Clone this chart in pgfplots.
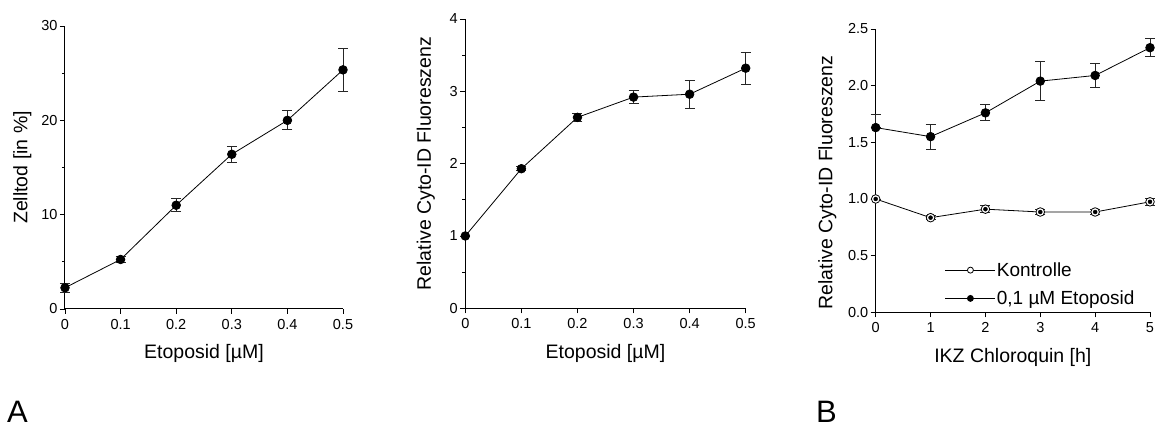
\documentclass[border=0pt]{standalone}
\usepackage{fontspec}
\setmainfont{Liberation Sans}
\usepackage{pgfplots}
\usepackage{pgfplotstable}
\pgfplotsset{compat=1.18}

% Zelltod nach Etoposid
\pgfplotstableread{
x    y     ep    em
0    2.25  0.45  0.45
0.1  5.25  0.35  0.35
0.2  11.0  0.7   0.7
0.3  16.4  0.85  0.85
0.4  20.0  1.0   1.0
0.5  25.35 2.3   2.3
}\zelltod

% Cyto-ID nach Etoposid
\pgfplotstableread{
x    y     ep    em
0    1.0   0     0
0.1  1.93  0.03  0.03
0.2  2.64  0.06  0.06
0.3  2.92  0.09  0.09
0.4  2.96  0.19  0.19
0.5  3.32  0.22  0.22
}\cytoeto

% Cyto-ID nach Chloroquin, 0,1 uM Etoposid
\pgfplotstableread{
x  y      ep    em
0  1.63   0.12  0
1  1.55   0.11  0.11
2  1.76   0.07  0.07
3  2.04   0.17  0.17
4  2.09   0.11  0.11
5  2.335  0.08  0.08
}\chloeto

% Cyto-ID nach Chloroquin, Kontrolle
\pgfplotstableread{
x  y      ep    em
0  1.0    0     0
1  0.835  0.02  0.02
2  0.91   0.03  0.03
3  0.885  0.02  0.02
4  0.885  0.02  0.02
5  0.975  0.03  0.03
}\chlokon

\pgfplotsset{
  panel/.style={
    scale only axis,
    axis lines*=left,
    axis line style={line width=1pt, black},
    clip=false,
    tick align=outside,
    major tick length=5pt,
    minor tick length=3pt,
    every tick/.style={black, line width=0.9pt},
    tick label style={font=\fontsize{14.5}{16}\selectfont},
    xticklabel style={yshift=-1.5pt},
    yticklabel style={xshift=1pt},
    /pgf/number format/assume math mode=true,
    label style={font=\fontsize{19.5}{22}\selectfont},
    xlabel style={at={(axis description cs:0.5,0)}, anchor=base, yshift=-50pt},
  },
  curve/.style={black, line width=0.8pt, mark=*, mark size=4.3pt,
    mark options={solid, line width=0.7pt}},
  ebars/.style={only marks, mark=none, forget plot,
    error bars/.cd, y dir=both, y explicit,
    error bar style={line width=0.9pt, black!85},
    error mark options={rotate=90, mark size=5pt, line width=0.9pt, black!85}},
}

\begin{document}
\begin{tikzpicture}
\useasboundingbox (0pt,0pt) rectangle (1157pt,427pt);

% Panel A, links
\begin{axis}[panel,
  at={(65pt,118pt)}, anchor=south west, width=278pt, height=283pt,
  xmin=0, xmax=0.5, ymin=0, ymax=30,
  xtick={0,0.1,...,0.5}, xticklabels={0,0.1,0.2,0.3,0.4,0.5},
  ytick={0,10,20,30}, minor ytick={5,15,25},
  xlabel={Etoposid [µM]}, ylabel={Zelltod [in \%]},
  ylabel style={at={(axis description cs:-0.135,0.5)}, anchor=base},
]
\addplot[curve, mark options={fill=black}] table[x=x, y=y] {\zelltod};
\addplot[ebars] table[x=x, y=y, y error plus=ep, y error minus=em] {\zelltod};
\end{axis}

% Panel A, rechts
\begin{axis}[panel,
  at={(465.3pt,118.7pt)}, anchor=south west, width=280.4pt, height=289.3pt,
  xmin=0, xmax=0.5, ymin=0, ymax=4,
  xtick={0,0.1,...,0.5}, xticklabels={0,0.1,0.2,0.3,0.4,0.5},
  ytick={0,1,2,3,4}, minor ytick={0.5,1.5,2.5,3.5},
  xlabel={Etoposid [µM]}, ylabel={Relative Cyto-ID Fluoreszenz},
  ylabel style={at={(axis description cs:-0.123,0.5)}, anchor=base},
]
\addplot[curve, mark options={fill=black}] table[x=x, y=y] {\cytoeto};
\addplot[ebars] table[x=x, y=y, y error plus=ep, y error minus=em] {\cytoeto};
\end{axis}

% Panel B
\begin{axis}[panel,
  at={(875.7pt,114.7pt)}, anchor=south west, width=274.3pt, height=283.3pt,
  xmin=0, xmax=5, ymin=0, ymax=2.5,
  xtick={0,1,2,3,4,5},
  ytick={0,0.5,1,1.5,2,2.5},
  yticklabels={0.0,0.5,1.0,1.5,2.0,2.5},
  xlabel={IKZ Chloroquin [h]}, ylabel={Relative Cyto-ID Fluoreszenz},
  ylabel style={at={(axis description cs:-0.158,0.458)}, anchor=base},
  legend style={draw=none, fill=none, inner sep=0pt, anchor=north west,
    at={(axis description cs:0.252,0.18)},
    font=\fontsize{19}{22}\selectfont, row sep=11pt,
    nodes={inner sep=1pt, anchor=west}},
  legend cell align=left,
  legend image code/.code={
    \draw[#1, mark=none] (0pt,0pt) -- (50pt,0pt);
    \draw[#1, mark size=3pt, only marks] plot coordinates {(25pt,0pt)};
  },
]
\addplot[curve, mark options={fill=white}] table[x=x, y=y] {\chlokon};
\addlegendentry{Kontrolle}
\addplot[curve, mark options={fill=black}] table[x=x, y=y] {\chloeto};
\addlegendentry{0,1 µM Etoposid}
\addplot[ebars] table[x=x, y=y, y error plus=ep, y error minus=em] {\chlokon};
\addplot[ebars] table[x=x, y=y, y error plus=ep, y error minus=em] {\chloeto};
\end{axis}

\node[anchor=base west, inner sep=0pt, font=\fontsize{31}{34}\selectfont] at (7pt,4pt) {A};
\node[anchor=base west, inner sep=0pt, font=\fontsize{31}{34}\selectfont] at (816pt,4pt) {B};
\end{tikzpicture}
\end{document}
